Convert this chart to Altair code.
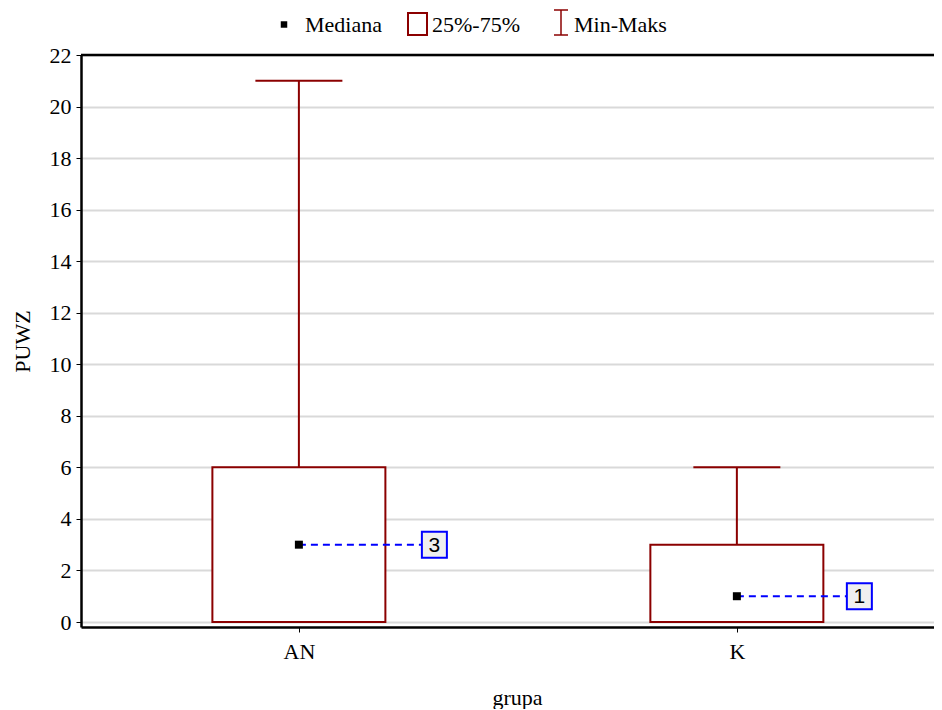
import altair as alt
import pandas as pd

# ---- data ----
groups = ["AN", "K"]
mins = [0, 0]
q1s = [0, 0]
medians = [3, 1]
q3s = [6, 3]
maxs = [21, 6]
legend_labels = ["Mediana", "25%-75%", "Min-Maks"]

df = pd.DataFrame({"grupa": groups, "min": mins, "q1": q1s, "median": medians,
                   "q3": q3s, "max": maxs})

RED = "#8b0000"
SERIF = "Liberation Serif"
SANS = "Liberation Sans"
W, H = 853, 572

yscale = alt.Scale(domain=[-0.194, 22], nice=False, zero=False)
xscale = alt.Scale(type="point", domain=groups, padding=0.4738, align=0.525)

xaxis = alt.Axis(title="grupa", titleFont=SERIF, titleFontSize=22, titleFontWeight="normal",
                 titleColor="black", titleX=436, titleY=70, titleBaseline="middle",
                 labelAngle=0, labelFont=SERIF, labelFontSize=22, labelColor="black",
                 labelPadding=9, domainColor="black", domainWidth=2.5, tickColor="black",
                 tickSize=5, grid=False)
yaxis = alt.Axis(title="PUWZ", titleFont=SERIF, titleFontSize=22, titleFontWeight="normal",
                 titleColor="black", titleAngle=270, titleX=-59, titleY=H / 2,
                 titleAlign="center", titleBaseline="middle",
                 values=list(range(0, 23, 2)), labelFont=SERIF, labelFontSize=22,
                 labelColor="black", labelPadding=5, domainColor="black", domainWidth=2.5,
                 tickColor="black", tickSize=5, grid=True, gridColor="#d9d9d9", gridWidth=2)

base = alt.Chart(df).encode(x=alt.X("grupa:N", scale=xscale, axis=xaxis))

box = base.mark_bar(size=173, fill="white", stroke=RED, strokeWidth=2, opacity=1).encode(
    y=alt.Y("q1:Q", scale=yscale, axis=yaxis), y2="q3:Q")
whisk_hi = base.mark_rule(color=RED, strokeWidth=2).encode(y="q3:Q", y2="max:Q")
whisk_lo = base.mark_rule(color=RED, strokeWidth=2).encode(y="min:Q", y2="q1:Q")
cap_hi = base.mark_tick(orient="horizontal", size=87, thickness=2, color=RED,
                        opacity=1).encode(y="max:Q")
cap_lo = base.mark_tick(orient="horizontal", size=87, thickness=2, color=RED,
                        opacity=1).encode(y="min:Q")

layers = [box, whisk_hi, whisk_lo, cap_hi, cap_lo]

label_offsets = {"AN": 123, "K": 110}
for g, off in label_offsets.items():
    sub = base.transform_filter(alt.datum.grupa == g)
    layers.append(sub.mark_rule(color="#0000ff", strokeWidth=2, strokeDash=[7, 5],
                                x2Offset=off).encode(x2="grupa:N", y="median:Q"))
    layers.append(sub.mark_rect(fill="#efefef", stroke="#0000ff", strokeWidth=2,
                                xOffset=off, x2Offset=off + 25, yOffset=-13, y2Offset=13,
                                opacity=1)
                  .encode(x2="grupa:N", y="median:Q", y2="median:Q"))
    layers.append(sub.mark_text(font=SANS, fontSize=21, color="black", align="center",
                                baseline="middle", xOffset=off + 12.5, yOffset=1)
                  .encode(y="median:Q", text=alt.Text("median:Q")))

median_pt = base.mark_square(size=64, color="black", opacity=1).encode(y="median:Q")
layers.append(median_pt)

one = pd.DataFrame({"a": [0]})
frame_top = alt.Chart(one).mark_rule(color="black", strokeWidth=2.5).encode(
    x=alt.value(0), x2=alt.value(W), y=alt.value(0))
layers.append(frame_top)

# ---- manual legend ----
ly = -23
leg_sq = alt.Chart(one).mark_square(size=42, color="black", opacity=1).encode(
    x=alt.value(203), y=alt.value(-30.5))
leg_t1 = alt.Chart(one).mark_text(text=legend_labels[0], font=SERIF, fontSize=22, align="left",
                                  baseline="alphabetic", color="black").encode(
    x=alt.value(224), y=alt.value(ly))
leg_box = alt.Chart(one).mark_rect(fill="white", stroke=RED, strokeWidth=2).encode(
    x=alt.value(327), x2=alt.value(346), y=alt.value(-42), y2=alt.value(-20))
leg_t2 = alt.Chart(one).mark_text(text=legend_labels[1], font=SERIF, fontSize=22, align="left",
                                  baseline="alphabetic", color="black").encode(
    x=alt.value(351), y=alt.value(ly))
leg_v = alt.Chart(one).mark_rule(color=RED, strokeWidth=1.5).encode(
    x=alt.value(480), y=alt.value(-45), y2=alt.value(-20))
leg_c1 = alt.Chart(one).mark_rule(color=RED, strokeWidth=1.5).encode(
    x=alt.value(473), x2=alt.value(487), y=alt.value(-45))
leg_c2 = alt.Chart(one).mark_rule(color=RED, strokeWidth=1.5).encode(
    x=alt.value(473), x2=alt.value(487), y=alt.value(-20))
leg_t3 = alt.Chart(one).mark_text(text=legend_labels[2], font=SERIF, fontSize=22, align="left",
                                  baseline="alphabetic", color="black").encode(
    x=alt.value(493), y=alt.value(ly))
layers += [leg_sq, leg_t1, leg_box, leg_t2, leg_v, leg_c1, leg_c2, leg_t3]

chart = alt.layer(*layers).properties(
    width=W, height=H,
    autosize=alt.AutoSizeParams(type="none"),
    padding={"left": 73, "top": 47, "right": 0, "bottom": 82},
).configure_view(stroke=None).configure(background="white")

chart.save("out.html", embed_options={"renderer": "svg", "actions": False})
